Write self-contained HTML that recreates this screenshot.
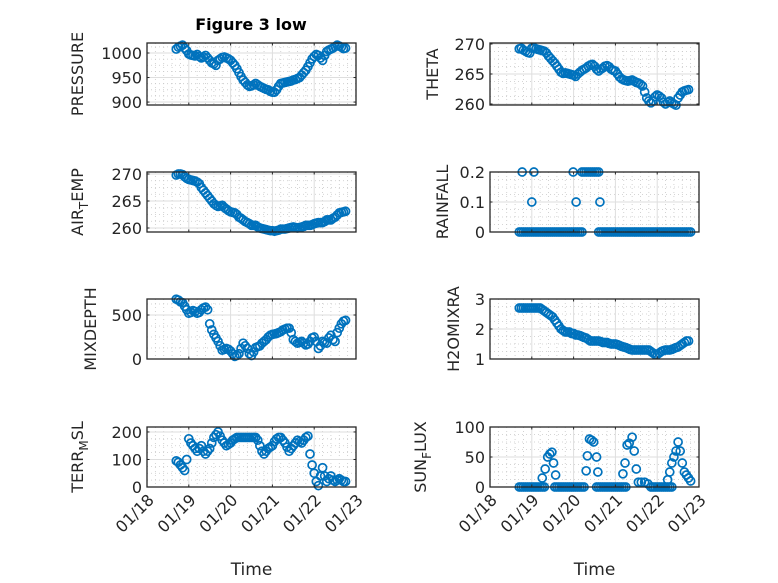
<!DOCTYPE html>
<html><head><meta charset="utf-8"><style>
body{margin:0;background:#fff;}
svg{display:block;font-family:"DejaVu Sans","Liberation Sans",sans-serif;}
</style></head><body>
<svg id="fig" width="778" height="583" viewBox="0 0 778 583">
<rect width="778" height="583" fill="#fff"/>
<text x="251" y="30" text-anchor="middle" font-size="16" font-weight="bold" fill="#000">Figure 3 low</text>
</svg>
<script>
const commonTimes=[18.7,18.8,18.9,19.0,19.1,19.2,19.3,19.4,19.5,19.6,19.7,19.8,19.9,20.0,20.1,20.2,20.3,20.4,20.5,20.6,20.7,20.8,20.9,21.0,21.1,21.2,21.3,21.4,21.5,21.6,21.7,21.8,21.9,22.0,22.1,22.2,22.3,22.4,22.5,22.6,22.7];
const halfTimes=[18.75,18.85,18.95,19.05,19.15,19.25,19.35,19.45,19.55,19.65,19.75,19.85,19.95,20.05,20.15,20.25,20.35,20.45,20.55,20.65,20.75,20.85,20.95,21.05,21.15,21.25,21.35,21.45,21.55,21.65,21.75,21.85,21.95,22.05,22.15,22.25,22.35,22.45,22.55,22.65,22.75];
const pressureVals=[1008,1014,1010,998,995,997,990,995,985,978,985,991,990,985,975,960,945,935,933,938,932,928,925,920,925,938,940,942,945,948,955,965,980,993,995,985,1003,1008,1013,1014,1009];
const pressureHalf=[1012,1016,1005,996,994,993,992,990,980,975,988,992,988,980,968,952,940,932,935,935,930,926,922,920,932,939,941,943,946,950,960,972,988,997,990,995,1006,1010,1016,1012,1010];
const thetaVals=[269.2,269.0,268.6,269.3,269.2,269.0,268.8,268.0,267.2,266.3,265.3,265.2,265.0,264.8,265.0,265.6,266.0,266.5,266.3,265.5,266.0,266.4,265.8,265.5,264.5,264.0,263.8,264.0,263.6,263.3,262.0,260.5,260.5,261.5,261.0,260.0,260.5,260.0,261.0,262.0,262.3];
const thetaHalf=[269.3,268.8,268.5,269.4,269.1,268.9,268.5,267.6,266.8,265.8,265.1,265.1,264.9,264.6,265.3,265.8,266.3,266.6,265.8,265.8,266.3,266.2,265.6,265.0,264.2,263.9,263.9,263.8,263.5,263.0,261.0,260.2,261.2,261.3,260.3,260.3,260.2,259.8,261.5,262.2,262.4];
const airTempVals=[269.8,270.0,269.5,269.0,268.8,268.5,267.5,266.5,265.5,264.5,264.0,264.2,263.5,263.0,262.8,262.0,261.5,261.0,260.5,260.5,260.0,259.8,259.6,259.5,259.5,259.8,259.8,260.0,260.2,260.0,260.2,260.5,260.5,260.8,261.0,261.0,261.5,261.5,262.0,262.8,263.0];
const airTempHalf=[270.0,269.9,269.2,268.9,268.7,268.2,267.0,266.0,265.0,264.2,264.1,263.8,263.2,262.9,262.5,261.8,261.2,260.8,260.5,260.2,259.9,259.7,259.5,259.4,259.6,259.8,259.9,260.1,260.1,260.1,260.3,260.5,260.6,260.9,261.0,261.2,261.5,261.8,262.4,262.9,263.1];
const mixDepthVals=[680,650,600,520,550,520,560,590,400,280,200,100,120,90,30,60,180,120,40,130,150,200,250,280,290,310,340,350,220,180,200,160,200,250,120,200,180,270,200,350,430];
const mixDepthHalf=[670,640,560,530,540,530,580,560,330,240,150,110,110,60,40,120,150,60,80,140,180,220,270,285,300,330,350,300,200,190,180,170,240,200,150,190,240,220,300,400,440];
const h2oVals=[2.7,2.7,2.7,2.7,2.7,2.7,2.6,2.5,2.4,2.2,2.0,1.9,1.9,1.85,1.8,1.75,1.7,1.6,1.6,1.6,1.55,1.55,1.5,1.5,1.45,1.4,1.35,1.3,1.3,1.3,1.3,1.3,1.2,1.15,1.25,1.3,1.3,1.35,1.4,1.5,1.6];
const h2oHalf=[2.7,2.7,2.7,2.7,2.7,2.65,2.55,2.45,2.3,2.1,1.95,1.9,1.85,1.8,1.78,1.72,1.65,1.6,1.6,1.58,1.55,1.52,1.5,1.48,1.42,1.38,1.32,1.3,1.3,1.3,1.3,1.25,1.15,1.2,1.28,1.3,1.32,1.38,1.45,1.55,1.6];
const terrVals=[95,80,60,175,150,130,150,120,140,180,200,170,150,160,175,180,180,180,180,180,150,120,140,150,175,180,160,130,150,170,160,180,120,50,5,70,20,40,20,30,20];
const terrHalf=[90,70,100,160,140,140,130,130,160,190,185,160,155,170,180,180,180,180,180,170,130,130,145,165,180,170,145,140,160,165,170,185,80,20,40,40,30,25,25,25,20];
const rainTimes=[18.7,18.75,18.8,18.85,18.9,18.95,19.0,19.05,19.1,19.15,19.2,19.25,19.3,19.35,19.4,19.45,19.5,19.55,19.6,19.65,19.7,19.75,19.8,19.85,19.9,19.95,20.0,20.05,20.1,20.15,20.2,20.6,20.65,20.7,20.75,20.8,20.85,20.9,20.95,21.0,21.05,21.1,21.15,21.2,21.25,21.3,21.35,21.4,21.45,21.5,21.55,21.6,21.65,21.7,21.75,21.8,21.85,21.9,21.95,22.0,22.05,22.1,22.15,22.2,22.25,22.3,22.35,22.4,22.45,22.5,22.55,22.6,22.65,22.7,22.75,22.8,18.77,19.05,19.99,20.2,20.25,20.3,20.35,20.4,20.45,20.5,20.55,20.6,19.0,20.06,20.63];
const rainVals=[0,0,0,0,0,0,0,0,0,0,0,0,0,0,0,0,0,0,0,0,0,0,0,0,0,0,0,0,0,0,0,0,0,0,0,0,0,0,0,0,0,0,0,0,0,0,0,0,0,0,0,0,0,0,0,0,0,0,0,0,0,0,0,0,0,0,0,0,0,0,0,0,0,0,0,0,0.2,0.2,0.2,0.2,0.2,0.2,0.2,0.2,0.2,0.2,0.2,0.2,0.1,0.1,0.1];
const sunTimes=[18.7,18.75,18.8,18.85,18.9,18.95,19.0,19.05,19.1,19.15,19.2,19.25,19.3,19.55,19.6,19.65,19.7,19.75,19.8,19.85,19.9,19.95,20.0,20.05,20.1,20.15,20.2,20.25,20.55,20.6,20.65,20.7,20.75,20.8,20.85,20.9,20.95,21.0,21.05,21.1,21.15,21.2,21.25,21.85,21.9,21.95,22.0,22.05,22.1,22.15,22.2,22.25,22.3,22.35,19.25,19.32,19.38,19.43,19.48,19.52,19.57,20.3,20.33,20.38,20.43,20.48,20.55,20.58,21.18,21.23,21.28,21.33,21.4,21.45,21.5,21.55,21.62,21.7,21.78,22.25,22.3,22.35,22.4,22.45,22.5,22.55,22.6,22.65,22.7,22.75,22.8];
const sunVals=[0,0,0,0,0,0,0,0,0,0,0,0,0,0,0,0,0,0,0,0,0,0,0,0,0,0,0,0,0,0,0,0,0,0,0,0,0,0,0,0,0,0,0,0,0,0,0,0,0,0,0,0,0,0,15,30,50,55,58,40,20,27,52,80,78,75,50,25,22,40,70,73,83,60,30,8,8,8,5,12,25,40,50,60,75,60,40,25,20,15,10];
const xTickDays=[18,19,20,21,22,23];
const xTickLabels=["01/18","01/19","01/20","01/21","01/22","01/23"];

const NS="http://www.w3.org/2000/svg";
const svg=document.getElementById('fig');
function mk(tag,attrs,parent){const e=document.createElementNS(NS,tag);for(const k in attrs)e.setAttribute(k,attrs[k]);(parent||svg).appendChild(e);return e;}

const panels=[
 {name:'pressure',x0:147,x1:356,y0:43,y1:105,ymin:894,ymax:1020.4,yt:[900,950,1000],yl:['900','950','1000'],s:[[commonTimes,pressureVals],[halfTimes,pressureHalf]],label:['PRESSURE'],lx:83},
 {name:'theta',x0:490,x1:699,y0:43,y1:105,ymin:259.83,ymax:270.17,yt:[260,265,270],yl:['260','265','270'],s:[[commonTimes,thetaVals],[halfTimes,thetaHalf]],label:['THETA'],lx:438},
 {name:'air-temp',x0:147,x1:356,y0:172,y1:232,ymin:259.26,ymax:270.37,yt:[260,265,270],yl:['260','265','270'],s:[[commonTimes,airTempVals],[halfTimes,airTempHalf]],label:['AIR','T','EMP'],lx:83},
 {name:'rainfall',x0:490,x1:699,y0:172,y1:232,ymin:0,ymax:0.2,yt:[0,0.1,0.2],yl:['0','0.1','0.2'],s:[[rainTimes,rainVals]],label:['RAINFALL'],lx:448},
 {name:'mixdepth',x0:147,x1:356,y0:299,y1:359,ymin:0,ymax:682,yt:[0,500],yl:['0','500'],s:[[commonTimes,mixDepthVals],[halfTimes,mixDepthHalf]],label:['MIXDEPTH'],lx:96},
 {name:'h2omixra',x0:490,x1:699,y0:299,y1:359,ymin:1,ymax:3,yt:[1,2,3],yl:['1','2','3'],s:[[commonTimes,h2oVals],[halfTimes,h2oHalf]],label:['H2OMIXRA'],lx:459},
 {name:'terr-msl',x0:147,x1:356,y0:427,y1:487,ymin:0,ymax:218,yt:[0,100,200],yl:['0','100','200'],s:[[commonTimes,terrVals],[halfTimes,terrHalf]],label:['TERR','M','SL'],lx:83},
 {name:'sun-flux',x0:490,x1:699,y0:427,y1:487,ymin:0,ymax:100,yt:[0,50,100],yl:['0','50','100'],s:[[sunTimes,sunVals]],label:['SUN','F','LUX'],lx:426}
];

panels.forEach((p,pi)=>{
 const g=mk('g',{});
 
 
 const xs=d=>p.x0+(d-18)/5*(p.x1-p.x0);
 const ys=v=>p.y1-(v-p.ymin)/(p.ymax-p.ymin)*(p.y1-p.y0);
 mk('rect',{x:p.x0,y:p.y0,width:p.x1-p.x0,height:p.y1-p.y0,fill:'#fff'},g);
 for(let d=18;d<23;d++){for(let k=1;k<5;k++){const x=xs(d+k/5);mk('line',{x1:x,x2:x,y1:p.y0,y2:p.y1,stroke:'#c8c8c8','stroke-width':0.8,'stroke-dasharray':'1 3'},g);}}
 const ystep=p.yt[1]-p.yt[0];
 for(let v=p.yt[0]-ystep;v<=p.ymax+ystep;v+=ystep/4){const y=ys(v);if(y>p.y0+0.5&&y<p.y1-0.5)mk('line',{x1:p.x0,x2:p.x1,y1:y,y2:y,stroke:'#c8c8c8','stroke-width':0.8,'stroke-dasharray':'1 3'},g);}
 xTickDays.forEach(d=>{const x=xs(d);mk('line',{x1:x,x2:x,y1:p.y0,y2:p.y1,stroke:'#dedede','stroke-width':1},g);});
 p.yt.forEach(v=>{const y=ys(v);mk('line',{x1:p.x0,x2:p.x1,y1:y,y2:y,stroke:'#dedede','stroke-width':1},g);});
 const dg=mk('g',{fill:'none',stroke:'#0072BD','stroke-width':1.7},g);
 
 
 p.s.forEach(([ts,vs])=>{ts.forEach((t,i)=>{const c=mk('circle',{cx:xs(t),cy:ys(vs[i]),r:4},dg);
  
  });});
 mk('rect',{x:p.x0,y:p.y0,width:p.x1-p.x0,height:p.y1-p.y0,fill:'none',stroke:'#262626','stroke-width':1.3},g);
 xTickDays.forEach(d=>{const x=xs(d);mk('line',{x1:x,x2:x,y1:p.y1,y2:p.y1-2.5,stroke:'#262626'},g);mk('line',{x1:x,x2:x,y1:p.y0,y2:p.y0+2.5,stroke:'#262626'},g);});
 p.yt.forEach((v,i)=>{const y=ys(v);mk('line',{x1:p.x0,x2:p.x0+2.5,y1:y,y2:y,stroke:'#262626'},g);mk('line',{x1:p.x1,x2:p.x1-2.5,y1:y,y2:y,stroke:'#262626'},g);
  const tl=mk('text',{x:p.x0-5,y:y+6,'text-anchor':'end','font-size':16,fill:'#262626'},g);tl.textContent=p.yl[i];
  
  });
 const cy=(p.y0+p.y1)/2;
 const yl=mk('text',{x:0,y:0,'text-anchor':'middle','font-size':16,fill:'#262626',transform:`translate(${p.lx},${cy}) rotate(-90)`},g);
 
 
 if(p.label.length===1){yl.textContent=p.label[0];}
 else{const a=mk('tspan',{},yl);a.textContent=p.label[0];const b=mk('tspan',{dy:5,'font-size':12},yl);b.textContent=p.label[1];const c=mk('tspan',{dy:-5},yl);c.textContent=p.label[2];}
 if(pi>=6){
  xTickDays.forEach((d,i)=>{const x=xs(d);const t=mk('text',{x:0,y:0,'text-anchor':'end','font-size':16,fill:'#262626',transform:`translate(${x+8},${p.y1+14}) rotate(-45)`},g);t.textContent=xTickLabels[i];
   
   });
  const xt=mk('text',{x:(p.x0+p.x1)/2,y:575,'text-anchor':'middle','font-size':17,fill:'#262626'},g);xt.textContent='Time';
  
  
 }
});
</script>
</body></html>
